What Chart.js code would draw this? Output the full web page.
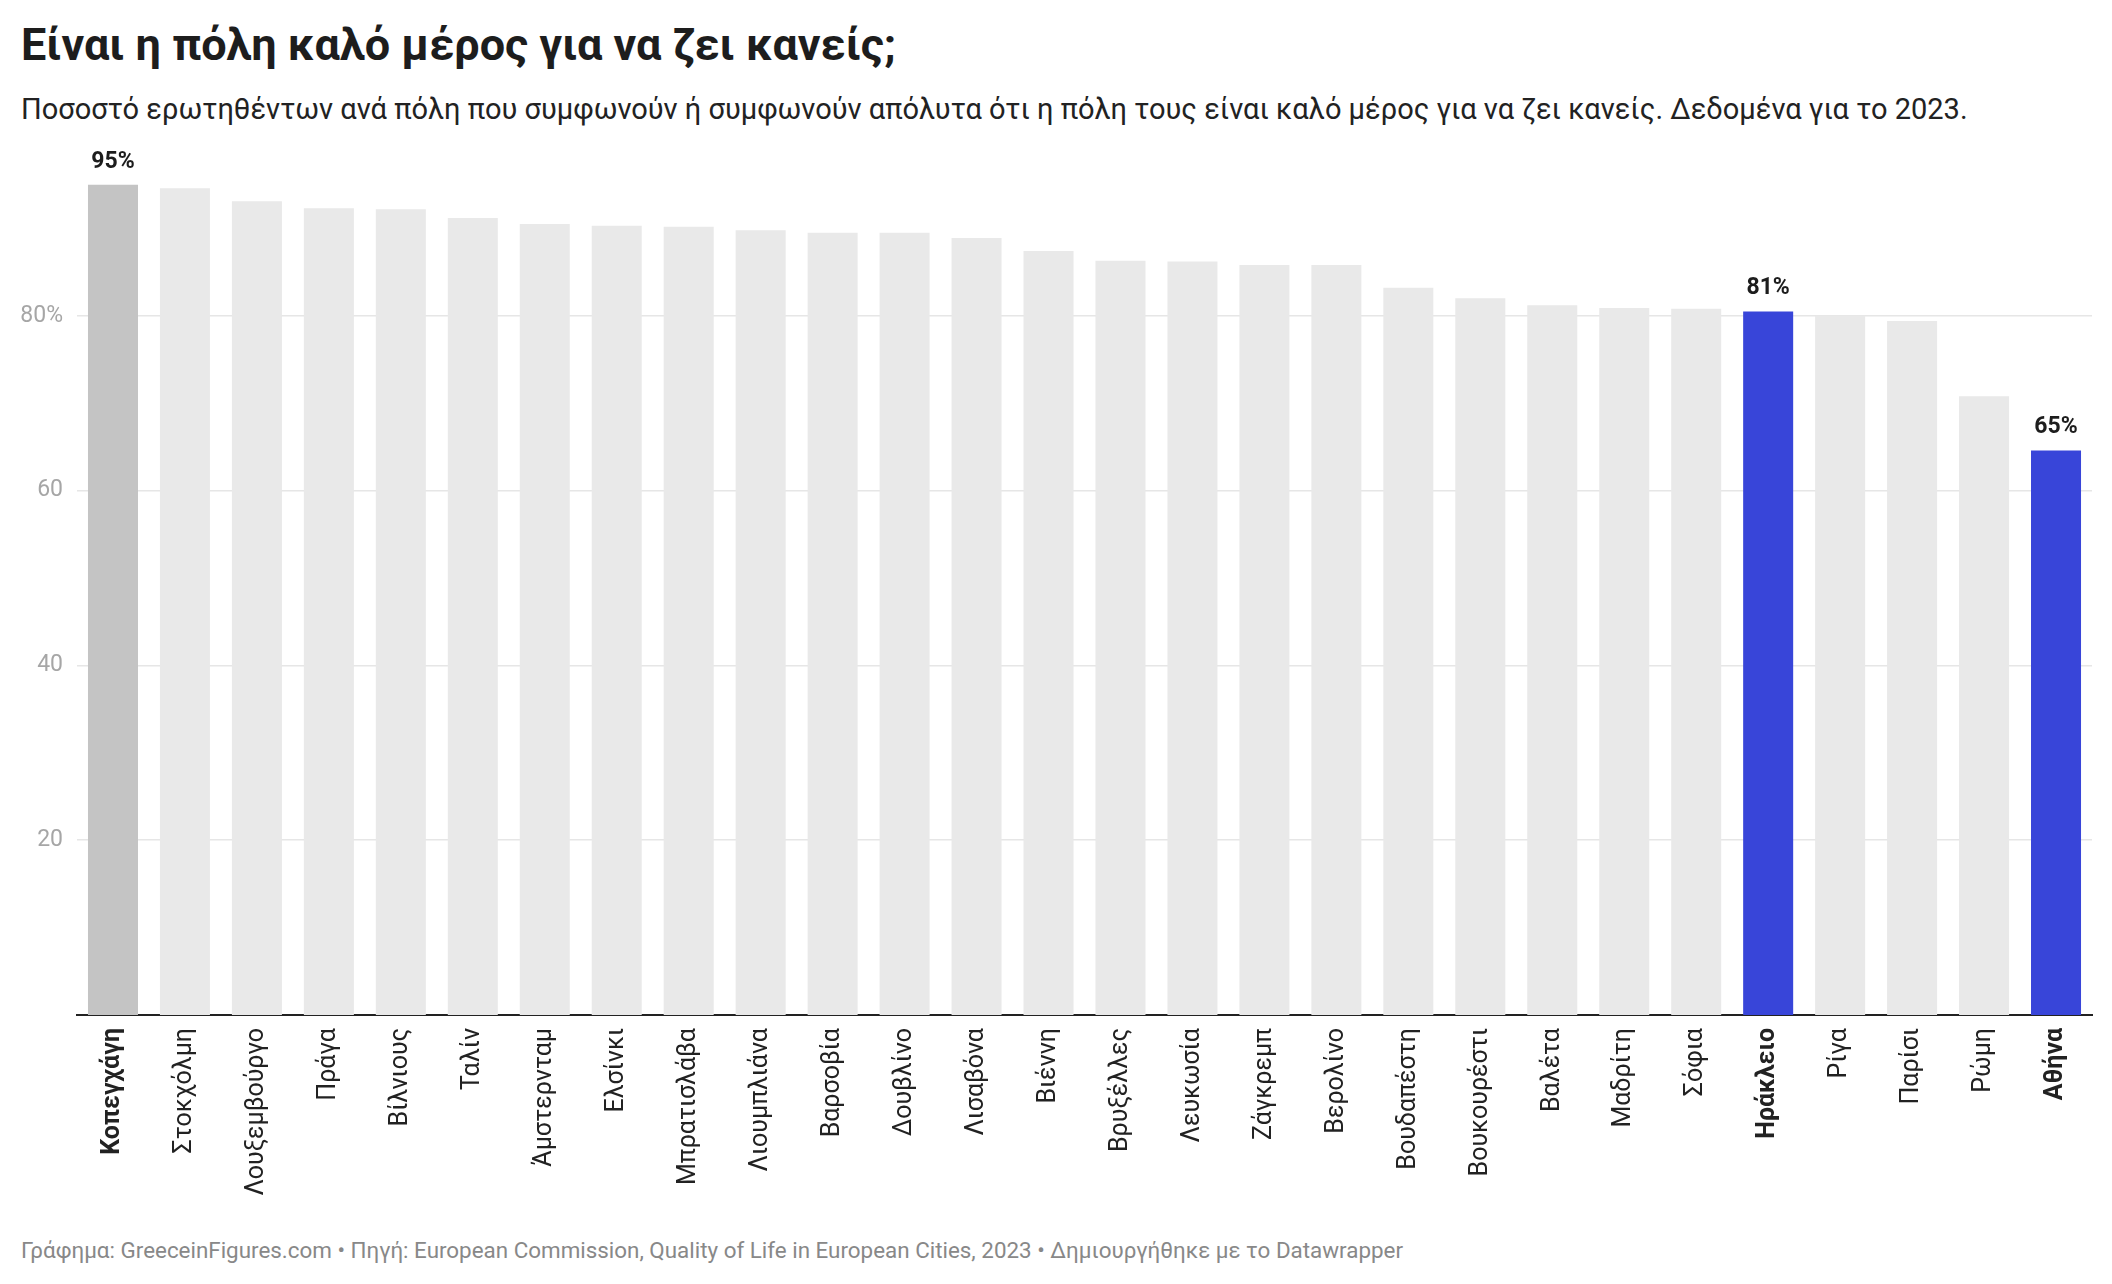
<!DOCTYPE html>
<html>
<head>
<meta charset="utf-8">
<script src="https://cdn.jsdelivr.net/npm/chart.js@4"></script>
<style>
  body { margin: 0; background: #fff; font-family: Roboto, sans-serif; }
  #page { position: relative; width: 2112px; height: 1284px; overflow: hidden; }
  .title { position: absolute; left: 21px; top: 18px; font-size: 45px; font-weight: bold; color: #1d1d1d; line-height: 54px; white-space: nowrap; }
  .subtitle { position: absolute; left: 21px; top: 91px; font-size: 29px; color: #222; line-height: 36px; white-space: nowrap; }
  .footer { position: absolute; left: 21px; top: 1236px; font-size: 22.4px; color: #888; line-height: 28px; white-space: nowrap; }
  #wrap { position: absolute; left: 0; top: 113px; width: 2112px; height: 1110px; }
</style>
</head>
<body>
<div id="page">
  <div class="title">Είναι η πόλη καλό μέρος για να ζει κανείς;</div>
  <div class="subtitle">Ποσοστό ερωτηθέντων ανά πόλη που συμφωνούν ή συμφωνούν απόλυτα ότι η πόλη τους είναι καλό μέρος για να ζει κανείς. Δεδομένα για το 2023.</div>
  <div id="wrap"><canvas id="bar_chart"></canvas></div>
  <div class="footer">Γράφημα: GreeceinFigures.com • Πηγή: European Commission, Quality of Life in European Cities, 2023 • Δημιουργήθηκε με το Datawrapper</div>
</div>
<script>
const cities = ['Κοπεγχάγη', 'Στοκχόλμη', 'Λουξεμβούργο', 'Πράγα', 'Βίλνιους', 'Ταλίν', 'Άμστερνταμ',
    'Ελσίνκι', 'Μπρατισλάβα', 'Λιουμπλιάνα', 'Βαρσοβία', 'Δουβλίνο', 'Λισαβόνα', 'Βιέννη',
    'Βρυξέλλες', 'Λευκωσία', 'Ζάγκρεμπ', 'Βερολίνο', 'Βουδαπέστη', 'Βουκουρέστι', 'Βαλέτα',
    'Μαδρίτη', 'Σόφια', 'Ηράκλειο', 'Ρίγα', 'Παρίσι', 'Ρώμη', 'Αθήνα']
const values = [95.0, 94.6, 93.1, 92.3, 92.2, 91.2, 90.5, 90.3, 90.2, 89.8, 89.5, 89.5, 88.9, 87.4,
    86.3, 86.2, 85.8, 85.8, 83.2, 82.0, 81.2, 80.9, 80.8, 80.5, 80.0, 79.4, 70.8, 64.6]
const y_ticks = [20, 40, 60, 80]
const labelled = [0, 23, 27]   // bars with value label + bold city name
const highlight = [23, 27]     // blue bars

const colors = values.map((v, i) => i === 0 ? '#c4c4c4' : highlight.includes(i) ? '#3845d9' : '#e9e9e9')

const valueLabels = {
    id: 'valueLabels',
    afterDatasetsDraw(chart) {
        const ctx = chart.ctx
        const meta = chart.getDatasetMeta(0)
        ctx.save()
        ctx.font = 'bold 23px Roboto'
        ctx.fillStyle = '#1d1d1d'
        ctx.textAlign = 'center'
        ctx.textBaseline = 'alphabetic'
        labelled.forEach(i => {
            const bar = meta.data[i]
            ctx.fillText(Math.round(values[i]) + '%', bar.x, bar.y - 17)
        })
        ctx.restore()
    }
}

new Chart(document.querySelector('#bar_chart'), {
    type: 'bar',
    data: {
        labels: cities,
        datasets: [{
            data: values,
            backgroundColor: colors,
            barPercentage: 0.695,
            categoryPercentage: 1
        }]
    },
    options: {
        responsive: true,
        maintainAspectRatio: false,
        animation: false,
        layout: { padding: { top: 28, right: 20, left: 0, bottom: 0 } },
        plugins: { legend: false, tooltip: { enabled: false } },
        scales: {
            x: {
                grid: { display: false },
                border: { display: true, color: '#222', width: 2 },
                afterFit: axis => { axis.height = 208 },
                ticks: {
                    autoSkip: false,
                    minRotation: 90,
                    maxRotation: 90,
                    padding: 5,
                    color: '#222',
                    font: ctx => ({
                        family: 'Roboto',
                        size: 25,
                        weight: labelled.includes(ctx.index) ? 'bold' : 'normal'
                    })
                }
            },
            y: {
                min: 0,
                max: 100,
                afterBuildTicks: axis => { axis.ticks = y_ticks.map(v => ({ value: v })) },
                afterFit: axis => { axis.width = 77 },
                border: { display: false },
                grid: { color: '#e6e6e6', lineWidth: 1.5, drawTicks: false },
                ticks: {
                    padding: 14,
                    color: '#a6a6a6',
                    font: { family: 'Roboto', size: 23 },
                    callback: value => value === 80 ? '80%' : value
                }
            }
        }
    },
    plugins: [valueLabels]
})
</script>
</body>
</html>
